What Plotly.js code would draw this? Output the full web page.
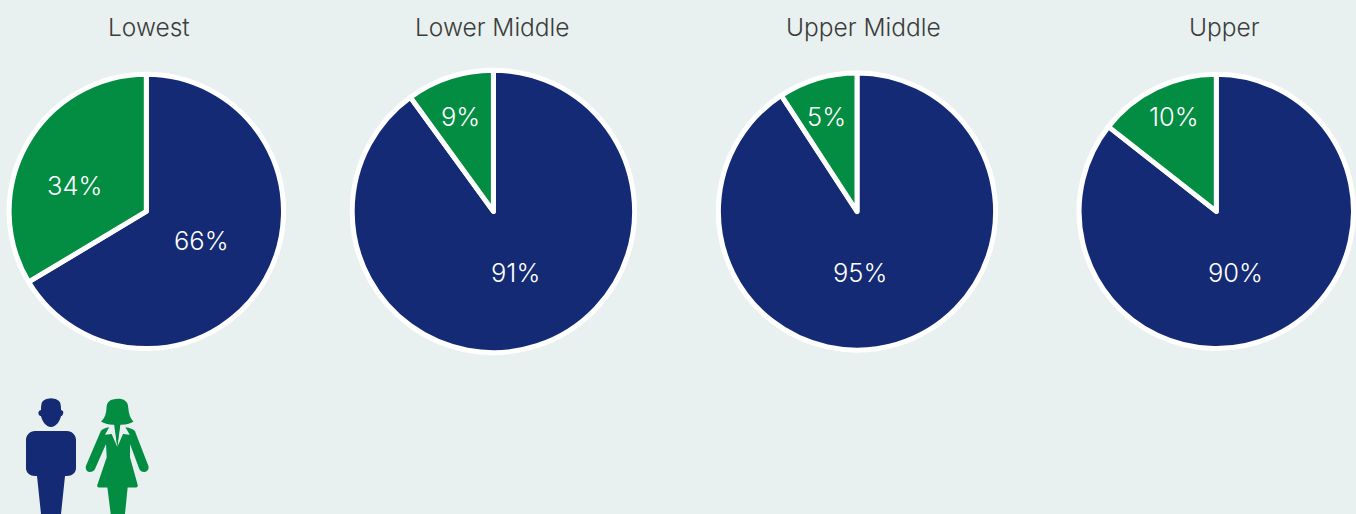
<!DOCTYPE html>
<html><head><meta charset="utf-8">
<script src="https://cdn.plot.ly/plotly-3.0.1.min.js"></script>
<style>html,body{margin:0;padding:0;background:#e8f1ef;overflow:hidden}</style>
</head><body><div id="chart" style="width:1356px;height:514px"></div>
<script>
const W = 1356, H = 514;
const incomeGroups = ["Lowest", "Lower Middle", "Upper Middle", "Upper"];
const sliceNames = ["Men", "Women"];
// Drawn slice shares (the printed labels differ from the wedges in the source)
const menShare = [66.4, 90, 90.8, 85.6];
const womenShare = [33.6, 10, 9.2, 14.4];
const menLabels = ["66%", "91%", "95%", "90%"];
const womenLabels = ["34%", "9%", "5%", "10%"];
const NAVY = "#142a74", GREEN = "#038d43", BG = "#e8f1ef", INK = "#3c3c3c";

const pieCx = [146.3, 493.4, 857, 1216.3], pieCy = [211.4, 211.4, 211.5, 211.4], pieR = [137.2, 141.2, 138.6, 137.2];
const titleX = [148.5, 492.5, 863, 1224.5], titleY = 27;
const menPos = [[201.3, 240], [515.5, 272], [860, 272], [1235, 272]];
const womenPos = [[74.7, 185], [460.3, 116.5], [826.3, 116.5], [1174, 116.5]];

const traces = incomeGroups.map((g, i) => ({
  type: "pie", name: g, labels: sliceNames, values: [menShare[i], womenShare[i]],
  sort: false, direction: "clockwise", rotation: 0, textinfo: "none", hoverinfo: "label+percent",
  showlegend: false,
  marker: {colors: [NAVY, GREEN], line: {color: "#ffffff", width: 5}},
  domain: {x: [(pieCx[i] - pieR[i]) / W, (pieCx[i] + pieR[i]) / W],
           y: [1 - (pieCy[i] + pieR[i]) / H, 1 - (pieCy[i] - pieR[i]) / H]}
}));

const note = (text, x, y, size, color, weight) => ({
  text, x: x / W, y: 1 - y / H, xref: "paper", yref: "paper", showarrow: false,
  xanchor: "center", yanchor: "middle",
  font: {family: "Inter, Roboto, sans-serif", size, color, weight}
});
const annotations = [];
incomeGroups.forEach((g, i) => {
  annotations.push(note(g, titleX[i], titleY, 24.5, INK, 300));
  annotations.push(note(menLabels[i], menPos[i][0], menPos[i][1], 25.5, "#ffffff", 300));
  annotations.push(note(womenLabels[i], womenPos[i][0], womenPos[i][1], 25.5, "#ffffff", 300));
});

// icon outlines in page pixels, mapped onto paper coordinates
const px = p => p.replace(/(-?[\d.]+),(-?[\d.]+)/g, (m, x, y) =>
  (x / W).toFixed(5) + "," + (1 - y / H).toFixed(5));
const icon = (path, color) => ({type: "path", xref: "paper", yref: "paper", path: px(path),
  fillcolor: color, line: {width: 0}, layer: "above"});
const manPaths = [
  "M41.5,404 C42,400 47,398.5 51,398.3 C55,398.5 60,400 60.5,404 C61,406 61,408 61,410 C63,410.5 64,412 63,414 C62.5,415.5 62,416 61,416 C60,421 56,427 51,427 C46,427 42,421 41,416 C40,416 39,415.5 38.5,414 C38,412 39,410.5 41,410 C41,408 41,406 41.5,404 Z",
  "M35,431 L67,431 C72,431 76,435 76,440 L76,468 C76,473 72,476 67,476 L65,476 L61,514 L41,514 L37,476 L35,476 C30,476 26,473 26,468 L26,440 C26,435 30,431 35,431 Z"
];
const womanPaths = [
  "M109.5,401 C112,398.5 122,397.5 125,400.7 C128,403 128,405 128.3,408 C129,414 130,418 133.5,421.5 C131,423.5 127,424.5 121.5,424.7 L113,424.7 C108,424.7 104,423.5 101,421.5 C105,418 106,414 106.5,408 C106.7,405 107,403 109.5,401 Z",
  "M109.3,427.3 L125.3,427.3 C130,428 133.5,429 135,431.3 L148.3,465.7 C149.5,469 147,472 144,472 C142,472 140,471 139.3,469 L130,444 L130,457.3 L137.7,485 C138,486.5 137.3,487.5 136,487.5 L99,487.5 C97.5,487.5 97,486.5 97.3,485 L106.7,457.3 L106,444 L95,469 C94.2,471 92,472 90,472 C87,472 85,469 86,465.7 L100.7,431.3 C102,429 105,428 109.3,427.3 Z",
  "M107.3,487 L127.7,487 L125,514 L110.7,514 Z"
];
const lapelPaths = [
  "M109.3,427 L105,434.7 L111.7,434 L117.3,447 L115,426.5 Z",
  "M125.3,427 L129.7,434.7 L123,434 L117.3,447 L119.6,426.5 Z"
];
const neckPath = ["M114,424 L120.5,424 L117.3,447 Z"];
const shapes = manPaths.map(p => icon(p, NAVY))
  .concat(womanPaths.map(p => icon(p, GREEN)))
  .concat(lapelPaths.map(p => icon(p, BG)))
  .concat(neckPath.map(p => icon(p, GREEN)));

Plotly.newPlot("chart", traces, {
  width: W, height: H, margin: {l: 0, r: 0, t: 0, b: 0},
  paper_bgcolor: BG, plot_bgcolor: BG, showlegend: false, annotations, shapes
}, {displayModeBar: false, staticPlot: true});
</script></body></html>
